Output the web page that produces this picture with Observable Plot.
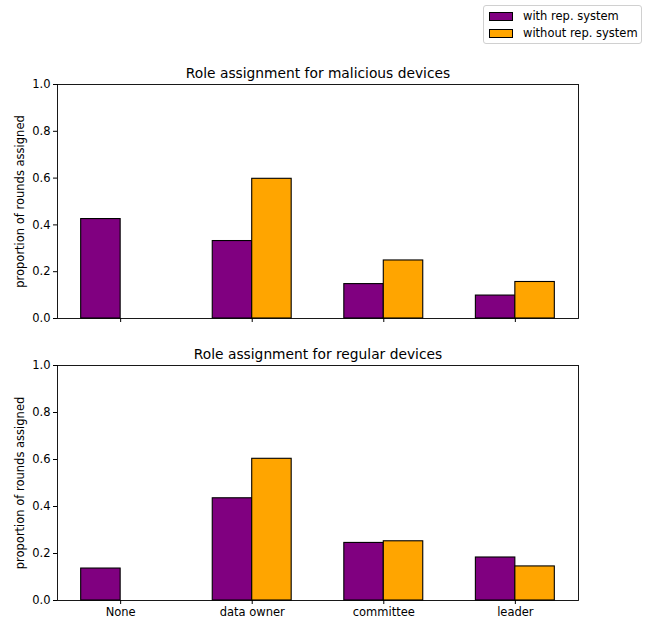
<!DOCTYPE html>
<html>
<head>
<meta charset="utf-8">
<script src="https://cdn.jsdelivr.net/npm/d3@7"></script>
<script src="https://cdn.jsdelivr.net/npm/@observablehq/plot@0.6"></script>
<style>
  html, body { margin: 0; padding: 0; background: #fff; }
  #wrap { position: relative; width: 652px; height: 624px; font-family: "DejaVu Sans", sans-serif; }
  #wrap svg { position: absolute; left: 0; overflow: visible; }
  #legend { position: absolute; left: 483px; top: 5px; width: 157px; height: 37px; border: 1px solid #d0d0d0; border-radius: 3px; background: #fff; font-size: 11.5px; color: #000; }
  .item { position: absolute; left: 5px; display: flex; align-items: center; }
  .sw { width: 22px; height: 7px; border: 1.1px solid #000; margin-right: 10px; }
</style>
</head>
<body>
<div id="wrap">
  <div id="legend"></div>
</div>
<script>
// ---- data ----
const roles = ["None", "data owner", "committee", "leader"];
const seriesNames = ["with rep. system", "without rep. system"];
const seriesColors = ["#800080", "#FFA500"];
const maliciousWith = [0.425, 0.331, 0.147, 0.098];
const maliciousWithout = [0.0, 0.597, 0.248, 0.156];
const regularWith = [0.136, 0.435, 0.245, 0.183];
const regularWithout = [0.0, 0.603, 0.252, 0.145];
const yTicks = [0, 0.2, 0.4, 0.6, 0.8, 1.0];
const titles = ["Role assignment for malicious devices", "Role assignment for regular devices"];
const yLabel = "proportion of rounds assigned";

const barWidth = 0.3;

function rows(withVals, withoutVals) {
  const out = [];
  roles.forEach((r, i) => {
    out.push({role: r, i, series: seriesNames[0], x1: i - barWidth, x2: i, value: withVals[i]});
    out.push({role: r, i, series: seriesNames[1], x1: i, x2: i + barWidth, value: withoutVals[i]});
  });
  return out;
}

function panel(data, title, opts) {
  return Plot.plot({
    width: 652,
    height: opts.height,
    marginLeft: 57,
    marginRight: 74,
    marginTop: opts.marginTop,
    marginBottom: opts.marginBottom,
    style: {fontFamily: "DejaVu Sans, sans-serif", fontSize: "11.5px", color: "#000", background: "transparent"},
    x: {type: "linear", domain: [-0.48, 3.48], ticks: [0, 1, 2, 3],
        tickFormat: opts.showX ? (d => roles[d]) : (() => ""), tickSize: 4, tickPadding: 3, label: null},
    y: {domain: [0, 1], ticks: yTicks, tickFormat: d3.format(".1f"), tickSize: 4, tickPadding: 3, label: null},
    color: {domain: seriesNames, range: seriesColors},
    marks: [
      Plot.rectY(data, {x1: "x1", x2: "x2", y: "value", fill: "series", stroke: "#000", strokeWidth: 1.1}),
      Plot.frame({stroke: "#000", strokeWidth: 0.9}),
      Plot.text([title], {frameAnchor: "top", lineAnchor: "bottom", dy: -7, fontSize: 13.8, text: d => d}),
      Plot.text([yLabel], {frameAnchor: "left", textAnchor: "middle", rotate: -90, dx: -37, fontSize: 11.5, text: d => d})
    ]
  });
}

const wrap = document.getElementById("wrap");
const top1 = panel(rows(maliciousWith, maliciousWithout), titles[0], {height: 340, marginTop: 84, marginBottom: 22, showX: false});
top1.style.top = "0px";
wrap.appendChild(top1);
const bot = panel(rows(regularWith, regularWithout), titles[1], {height: 284, marginTop: 25, marginBottom: 24, showX: true});
bot.style.top = "340px";
wrap.appendChild(bot);

const legend = document.getElementById("legend");
seriesNames.forEach((s, k) => {
  const it = document.createElement("div");
  it.className = "item";
  it.style.top = (k === 0 ? 3 : 20) + "px";
  it.innerHTML = `<div class="sw" style="background:${seriesColors[k]}"></div><span>${s}</span>`;
  legend.appendChild(it);
});
</script>
</body>
</html>
